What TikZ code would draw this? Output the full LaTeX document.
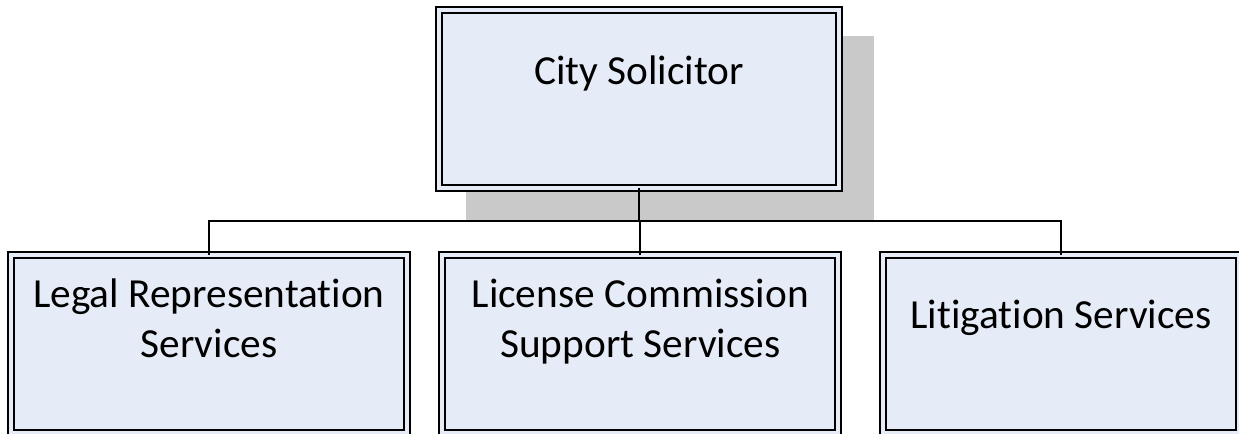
\documentclass[tikz,border=0pt]{standalone}
\usepackage{fontspec}
\setmainfont{Carlito}[Ligatures=NoCommon]
\usetikzlibrary{backgrounds}
\definecolor{boxfill}{RGB}{230,236,247}
\definecolor{shadowgray}{RGB}{201,201,201}
\tikzset{
  orgbox/.style={draw=black, fill=boxfill, line width=1.5pt, double=boxfill,
    double distance=3pt, inner sep=0pt, outer sep=0pt, minimum height=133.5pt},
  lbl/.style={font=\fontsize{31}{38}\selectfont, align=center, inner sep=0pt, yshift=19pt}
}
\begin{document}
\begin{tikzpicture}[x=0.75pt, y=-0.75pt]
\clip[use as bounding box] (0,0) rectangle (1239,433);
\node[orgbox, minimum width=300pt,
  label={[lbl, name=bosstext]center:City Solicitor}] (boss) at (639,99) {}
  [sibling distance=319.5pt, level distance=183.4pt,
   edge from parent/.append style={line width=1.5pt},
   edge from parent path={(\tikzparentnode.south) -- ++(0,-25pt) -| (\tikzchildnode.north)}]
  child { node[orgbox, minimum width=296.6pt, xshift=-3pt,
    label={[lbl, name=legaltext]center:Legal Representation\\Services}] (legal) {} }
  child { node[orgbox, minimum width=297pt, xshift=1pt,
    label={[lbl, yshift=-2.5pt, name=licensetext]center:License Commission\\Support Services}] (license) {} }
  child { node[orgbox, minimum width=267pt, xshift=-3pt,
    label={[lbl, name=littext]center:Litigation Services}] (litigation) {} }
;
% shadow behind the top box
\begin{scope}[on background layer]
  \fill[shadowgray] ([shift={(27,26)}]boss.north west) rectangle ([shift={(35,32)}]boss.south east);
\end{scope}
\end{tikzpicture}
\end{document}
